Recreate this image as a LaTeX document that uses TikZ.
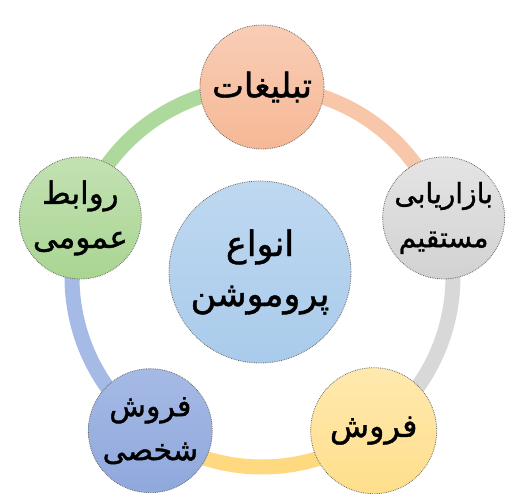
\documentclass[tikz,border=0pt]{standalone}
\usepackage{fontspec}
\newfontfamily\arabicfont[Script=Arabic,FakeBold=1.2]{DejaVu Sans}
\TeXXeTstate=1
\definecolor{orfill}{HTML}{F6B896}
\definecolor{orline}{HTML}{F8C6A8}
\definecolor{grfill}{HTML}{D2D2D2}
\definecolor{grline}{HTML}{D8D8D8}
\definecolor{yefill}{HTML}{FFDF8C}
\definecolor{yeline}{HTML}{FFD980}
\definecolor{blfill}{HTML}{8FA8DD}
\definecolor{blline}{HTML}{A6BAE6}
\definecolor{gnfill}{HTML}{A9D592}
\definecolor{gnline}{HTML}{ADD99C}
\definecolor{cefill}{HTML}{A9CBEB}
\definecolor{edgec}{HTML}{6A6A6A}
\begin{document}
\begin{tikzpicture}[x=1pt,y=1pt,
  bubble/.style={circle, minimum size=#1, inner sep=0pt, draw=edgec, line width=0.8pt, densely dotted, align=center, text=black},
  ringarc/.style={line width=15pt},
  fs/.style={font=\arabicfont\fontsize{#1}{44}\selectfont},
  anchorpt/.style={inner sep=0pt, minimum size=0pt}
]
\useasboundingbox (0,0) rectangle (507,500);
\coordinate (C) at (262,223);
% node centres
\path (C) ++(90:190) coordinate (posT)
      (C) ++(18:191) coordinate (posR)
      (C) ++(-54:190) coordinate (posBR)
      (C) ++(-126:190) coordinate (posBL)
      (C) ++(162:191) coordinate (posL);
% arcs from node to node (clockwise)
\node[anchorpt] (nT0) at (posT) {};
\node[anchorpt] (nR0) at (posR) {};
\node[anchorpt] (nBR0) at (posBR) {};
\node[anchorpt] (nBL0) at (posBL) {};
\node[anchorpt] (nL0) at (posL) {};
\draw[ringarc, orline] (nT0.center) arc[start angle=90, end angle=18, radius=190];
\draw[ringarc, grline] (nR0.center) arc[start angle=18, end angle=-54, radius=190];
\draw[ringarc, yeline] (nBR0.center) arc[start angle=-54, end angle=-126, radius=190];
\draw[ringarc, blline] (nBL0.center) arc[start angle=-126, end angle=-198, radius=190];
\draw[ringarc, gnline] (nL0.center) arc[start angle=162, end angle=90, radius=190];
% nodes
\node[bubble=124pt, top color=orfill!70!white, bottom color=orfill, fs=34] (top) at (posT) {\beginR تبلیغات\endR};
\node[bubble=120pt, top color=grfill!60!white, bottom color=grfill, fs=28] (right) at (posR) {\beginR بازاریابی\endR\\\beginR مستقیم\endR};
\node[bubble=126pt, top color=yefill!70!white, bottom color=yefill, fs=32] (bright) at (posBR) {\beginR فروش\endR};
\node[bubble=124pt, top color=blfill!80!white, bottom color=blfill, fs=30] (bleft) at (posBL) {\beginR فروش\endR\\\beginR شخصی\endR};
\node[bubble=122pt, top color=gnfill!70!white, bottom color=gnfill, fs=31] (left) at (posL) {\beginR روابط\endR\\\beginR عمومی\endR};
\node[bubble=182pt, top color=cefill!75!white, bottom color=cefill, font=\arabicfont\fontsize{35}{50}\selectfont] (center) at (260,228) {\beginR انواع\endR\\\beginR پروموشن\endR};
\end{tikzpicture}
\end{document}
